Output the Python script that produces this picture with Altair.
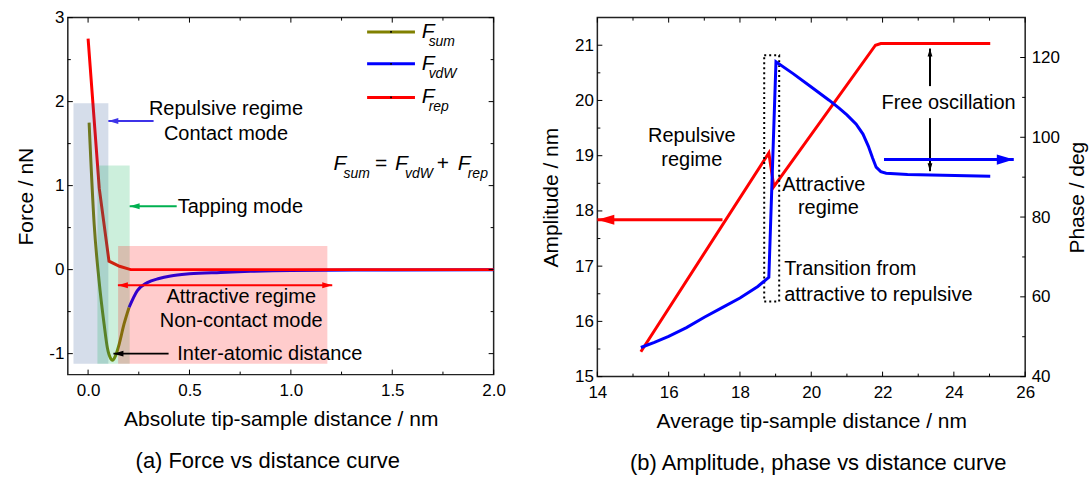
import altair as alt
import pandas as pd

FONT = "Liberation Sans"

# ---------------- panel (a): force vs distance ----------------
rep_x = [0.0, 0.055, 0.103, 0.155, 0.21, 0.3, 0.5, 1.0, 1.5, 2.0]
rep_y = [2.75, 0.97, 0.10, 0.04, 0.0, 0.0, 0.0, 0.0, 0.0, 0.0]
sum_x = [0.005, 0.03, 0.054, 0.079, 0.095, 0.112, 0.12, 0.136, 0.153, 0.177, 0.202]
sum_y = [1.75, 0.54, -0.13, -0.65, -0.93, -1.06, -1.08, -1.02, -0.89, -0.65, -0.45]
vdw_x = [0.202, 0.243, 0.292, 0.35, 0.407, 0.5, 0.653, 0.8, 1.0, 1.5, 2.0]
vdw_y = [-0.45, -0.25, -0.155, -0.105, -0.075, -0.05, -0.033, -0.02, -0.01, -0.004, -0.002]

reg_x1 = [-0.072, 0.046, 0.148]
reg_x2 = [0.100, 0.205, 1.18]
reg_y1 = [-1.12, -1.12, -1.12]
reg_y2 = [1.98, 1.24, 0.28]
reg_col = ["#2f5597", "#00b050", "#ff0000"]

leg_sub = ["sum", "vdW", "rep"]
leg_y = [2.83, 2.45, 2.05]
leg_col = ["#808000", "#0000ff", "#ff0000"]
leg_x1, leg_x2, leg_tx = 1.376, 1.612, 1.645

form_F_x = [1.21, 1.514, 1.823]
form_op_txt = ["=", "+"]
form_op_x = [1.415, 1.72]
form_sub = ["sum", "vdW", "rep"]
form_y = 1.255

a_ctr_txt = ["Repulsive regime", "Contact mode", "Attractive regime", "Non-contact mode"]
a_ctr_x = [0.68, 0.68, 0.755, 0.755]
a_ctr_y = [1.91, 1.61, -0.33, -0.61]
a_left_txt = ["Tapping mode", "Inter-atomic distance"]
a_left_x = [0.442, 0.44]
a_left_y = [0.75, -1.0]

# arrows: tail x, tip x, y, colour (heads point left)
a_arr_tail = [0.323, 0.437, 0.397, 1.204]
a_arr_tip = [0.100, 0.205, 0.125, 0.147]
a_arr_y = [1.77, 0.754, -1.0, -0.185]
a_arr_col = ["#3d33e8", "#00b050", "#000000", "#ff0000"]

a_xmaj = [0.0, 0.5, 1.0, 1.5, 2.0]
a_xmin = [0.25, 0.75, 1.25, 1.75]
a_ymaj = [-1, 0, 1, 2, 3]
a_ymin = [-0.5, 0.5, 1.5, 2.5]

# ---------------- panel (b): amplitude / phase ----------------
amp_x = [15.22, 18.81, 18.95, 21.80, 21.95, 25.02]
amp_y = [15.45, 19.05, 18.44, 21.0, 21.03, 21.03]
ph_x = [15.22, 15.6, 16.0, 16.5, 17.0, 17.5, 18.0, 18.5, 18.81, 19.01,
        19.5, 20.0, 20.5, 20.78, 21.0, 21.26, 21.45, 21.6, 21.72, 21.82, 21.95, 22.1, 22.7, 25.02]
ph_y = [47.3, 48.6, 50.1, 52.3, 54.9, 57.3, 59.7, 62.6, 64.9, 118.9,
        115.9, 112.6, 109.3, 107.3, 105.6, 103.3, 100.8, 97.8, 94.8, 92.5, 91.4, 91.0, 90.65, 90.25]

b_ctr_txt = ["Repulsive", "regime", "Attractive", "regime", "Free oscillation"]
b_ctr_x = [16.65, 16.65, 20.35, 20.48, 23.85]
b_ctr_y = [19.36, 18.93, 18.47, 18.06, 19.95]
b_left_txt = ["Transition from", "attractive to repulsive"]
b_left_x = [19.24, 19.24]
b_left_y = [16.94, 16.47]

box_x = [18.68, 19.10]
box_y = [16.36, 20.82]

red_arr = dict(tail=17.51, tip=14.0, y=17.84)
blue_arr = dict(tail=22.04, tip=25.68, y=94.4)
blk_x = 23.33
blk_up = [20.26, 20.94]    # tail, tip
blk_dn = [19.68, 18.72]    # tail, tip

b_xmaj = [14, 16, 18, 20, 22, 24, 26]
b_xmin = [15, 17, 19, 21, 23, 25]
b_ymaj = [15, 16, 17, 18, 19, 20, 21]
b_ymin = [15.5, 16.5, 17.5, 18.5, 19.5, 20.5]
b_pmaj = [40, 60, 80, 100, 120]
b_pmin = [50, 70, 90, 110]

W1, H1 = 427, 358
W2, H2 = 429, 360
MAJ, MIN = 5, 3
TXT = 20

HEAD_L = "M0,0L2,-0.6L2,0.6Z"
HEAD_R = "M0,0L-2,-0.6L-2,0.6Z"
HEAD_U = "M0,0L-0.6,2L0.6,2Z"
HEAD_D = "M0,0L-0.6,-2L0.6,-2Z"

# ---------------- scales / axes ----------------
xa = alt.Scale(domain=[-0.1, 2.0], nice=False, zero=False)
ya = alt.Scale(domain=[-1.25, 3.0], nice=False, zero=False)
ax_xa = alt.Axis(values=a_xmaj, format=".1f", title="Absolute tip-sample distance / nm",
                 labelPadding=8, titlePadding=10)
ax_ya = alt.Axis(values=a_ymaj, title="Force / nN", labelPadding=4, titlePadding=12,
                 labelExpr="datum.value < 0 ? '-' + abs(datum.value) : '' + datum.value")

xb = alt.Scale(domain=[14, 26], nice=False, zero=False)
yb = alt.Scale(domain=[15, 21.5], nice=False, zero=False)
pb = alt.Scale(domain=[40, 130], nice=False, zero=False)
ax_xb = alt.Axis(values=b_xmaj, format="d", title="Average tip-sample distance / nm",
                 labelPadding=8, titlePadding=10)
ax_yb = alt.Axis(values=b_ymaj, format="d", title="Amplitude / nm", labelPadding=4, titlePadding=13)
ax_pb = alt.Axis(values=b_pmaj, format="d", title="Phase / deg", orient="right", labelPadding=6,
                 titlePadding=7, titleAngle=270, titleBaseline="top")


def XA(f):
    return alt.X(f, scale=xa, axis=ax_xa)


def YA(f):
    return alt.Y(f, scale=ya, axis=ax_ya)


def XB(f):
    return alt.X(f, scale=xb, axis=ax_xb)


def YB(f):
    return alt.Y(f, scale=yb, axis=ax_yb)


def PB(f):
    return alt.Y(f, scale=pb, axis=ax_pb)


def xticks(vals, X, H, length):
    df = pd.DataFrame({"v": vals})
    base = alt.Chart(df).mark_rule(color="black", strokeWidth=1)
    bot = base.encode(x=X("v:Q"), y=alt.value(H), y2=alt.value(H - length))
    top = base.encode(x=X("v:Q"), y=alt.value(0), y2=alt.value(length))
    return [bot, top]


def yticks(vals, Y, W, length, sides=("l", "r")):
    df = pd.DataFrame({"v": vals})
    base = alt.Chart(df).mark_rule(color="black", strokeWidth=1)
    out = []
    if "l" in sides:
        out.append(base.encode(y=Y("v:Q"), x=alt.value(0), x2=alt.value(length)))
    if "r" in sides:
        out.append(base.encode(y=Y("v:Q"), x=alt.value(W), x2=alt.value(W - length)))
    return out


# ================= panel (a) =================
df_rep = pd.DataFrame({"x": rep_x, "y": rep_y})
df_sum = pd.DataFrame({"x": sum_x, "y": sum_y})
df_vdw = pd.DataFrame({"x": vdw_x, "y": vdw_y})

l_sum = alt.Chart(df_sum).mark_line(color="#808000", strokeWidth=3, interpolate="monotone").encode(
    x=XA("x:Q"), y=YA("y:Q"))
l_vdw = alt.Chart(df_vdw).mark_line(color="#0000ff", strokeWidth=3, interpolate="monotone").encode(
    x=XA("x:Q"), y=YA("y:Q"))
l_rep = alt.Chart(df_rep).mark_line(color="#ff0000", strokeWidth=3).encode(
    x=XA("x:Q"), y=YA("y:Q"))

df_reg = pd.DataFrame({"x1": reg_x1, "x2": reg_x2, "y1": reg_y1, "y2": reg_y2, "c": reg_col})
regions = alt.Chart(df_reg).mark_rect(opacity=0.2).encode(
    x=XA("x1:Q"), x2="x2:Q", y=YA("y1:Q"), y2="y2:Q", color=alt.Color("c:N", scale=None))

df_arr = pd.DataFrame({"tail": a_arr_tail, "tip": a_arr_tip, "y": a_arr_y, "c": a_arr_col})
arr_lines = alt.Chart(df_arr).mark_rule(strokeWidth=2).encode(
    x=XA("tail:Q"), x2="tip:Q", y=YA("y:Q"), color=alt.Color("c:N", scale=None))
arr_heads = alt.Chart(df_arr).mark_point(shape=HEAD_L, filled=True, size=100, opacity=1, strokeWidth=0).encode(
    x=XA("tip:Q"), y=YA("y:Q"), color=alt.Color("c:N", scale=None))
df_arr2 = df_arr.iloc[[3]]
arr_heads2 = alt.Chart(df_arr2).mark_point(shape=HEAD_R, filled=True, size=100, opacity=1, strokeWidth=0).encode(
    x=XA("tail:Q"), y=YA("y:Q"), color=alt.Color("c:N", scale=None))

df_actr = pd.DataFrame({"t": a_ctr_txt, "x": a_ctr_x, "y": a_ctr_y})
t_actr = alt.Chart(df_actr).mark_text(font=FONT, fontSize=TXT, align="center", baseline="middle", color="black").encode(
    x=XA("x:Q"), y=YA("y:Q"), text="t:N")
df_aleft = pd.DataFrame({"t": a_left_txt, "x": a_left_x, "y": a_left_y})
t_aleft = alt.Chart(df_aleft).mark_text(font=FONT, fontSize=TXT, align="left", baseline="middle", color="black").encode(
    x=XA("x:Q"), y=YA("y:Q"), text="t:N")

# legend
df_leg = pd.DataFrame({"x1": [leg_x1] * 3, "x2": [leg_x2] * 3, "xm": [(leg_x1 + leg_x2) / 2] * 3,
                       "xt": [leg_tx] * 3, "y": leg_y, "c": leg_col, "s": leg_sub, "F": ["F"] * 3})
leg_lines = alt.Chart(df_leg).mark_rule(strokeWidth=3).encode(
    x=XA("x1:Q"), x2="x2:Q", y=YA("y:Q"), color=alt.Color("c:N", scale=None))
leg_dots = alt.Chart(df_leg).mark_point(shape="square", filled=True, size=3, color="black", opacity=1).encode(
    x=XA("xm:Q"), y=YA("y:Q"))
leg_F = alt.Chart(df_leg).mark_text(font=FONT, fontSize=21, fontStyle="italic", align="left",
                                    baseline="middle", color="black").encode(
    x=XA("xt:Q"), y=YA("y:Q"), text="F:N")
leg_S = alt.Chart(df_leg).mark_text(font=FONT, fontSize=14, fontStyle="italic", align="left",
                                    baseline="middle", color="black", dx=7, dy=10).encode(
    x=XA("xt:Q"), y=YA("y:Q"), text="s:N")

# formula
df_fF = pd.DataFrame({"t": ["F"] * 3, "x": form_F_x, "s": form_sub, "y": [form_y] * 3})
f_F = alt.Chart(df_fF).mark_text(font=FONT, fontSize=21, fontStyle="italic", align="left",
                                 baseline="middle", color="black").encode(
    x=XA("x:Q"), y=YA("y:Q"), text="t:N")
f_sub = alt.Chart(df_fF).mark_text(font=FONT, fontSize=14, fontStyle="italic", align="left",
                                   baseline="middle", color="black", dx=10, dy=10).encode(
    x=XA("x:Q"), y=YA("y:Q"), text="s:N")
df_fop = pd.DataFrame({"t": form_op_txt, "x": form_op_x, "y": [form_y] * 2})
f_op = alt.Chart(df_fop).mark_text(font=FONT, fontSize=21, align="left", baseline="middle", color="black").encode(
    x=XA("x:Q"), y=YA("y:Q"), text="t:N")

ticks_a = (xticks(a_xmaj, XA, H1, MAJ) + xticks(a_xmin, XA, H1, MIN)
           + yticks(a_ymaj, YA, W1, MAJ) + yticks(a_ymin, YA, W1, MIN))

panel_a = alt.layer(
    l_sum, l_vdw, l_rep, regions, arr_lines, arr_heads, arr_heads2, t_actr, t_aleft,
    leg_lines, leg_dots, leg_F, leg_S, f_F, f_sub, f_op, *ticks_a
).properties(
    width=W1, height=H1,
    title=alt.TitleParams("(a) Force vs distance curve", orient="bottom", frame="group",
                          offset=22, dx=-13)
)

# ================= panel (b) =================
df_amp = pd.DataFrame({"x": amp_x, "y": amp_y})
df_ph = pd.DataFrame({"x": ph_x, "y": ph_y})

l_amp = alt.Chart(df_amp).mark_line(color="#ff0000", strokeWidth=3).encode(x=XB("x:Q"), y=YB("y:Q"))

df_box = pd.DataFrame({"x1": [box_x[0]], "x2": [box_x[1]], "y1": [box_y[0]], "y2": [box_y[1]]})
box = alt.Chart(df_box).mark_rect(fill="transparent", stroke="black", strokeWidth=2, strokeDash=[2, 3]).encode(
    x=XB("x1:Q"), x2="x2:Q", y=YB("y1:Q"), y2="y2:Q")

df_ra = pd.DataFrame({"tail": [red_arr["tail"]], "tip": [red_arr["tip"]], "y": [red_arr["y"]]})
ra_line = alt.Chart(df_ra).mark_rule(color="#ff0000", strokeWidth=3).encode(
    x=XB("tail:Q"), x2="tip:Q", y=YB("y:Q"))
ra_head = alt.Chart(df_ra).mark_point(shape=HEAD_L, filled=True, size=289, color="#ff0000", opacity=1,
                                      strokeWidth=0).encode(x=XB("tip:Q"), y=YB("y:Q"))

df_bk = pd.DataFrame({"x": [blk_x, blk_x], "tail": [blk_up[0], blk_dn[0]], "tip": [blk_up[1], blk_dn[1]],
                      "sh": [HEAD_U, HEAD_D]})
bk_line = alt.Chart(df_bk).mark_rule(color="black", strokeWidth=2).encode(
    x=XB("x:Q"), y=YB("tail:Q"), y2="tip:Q")
bk_head = alt.Chart(df_bk).mark_point(filled=True, size=64, color="black", opacity=1, strokeWidth=0).encode(
    x=XB("x:Q"), y=YB("tip:Q"), shape=alt.Shape("sh:N", scale=None))

df_bctr = pd.DataFrame({"t": b_ctr_txt, "x": b_ctr_x, "y": b_ctr_y})
t_bctr = alt.Chart(df_bctr).mark_text(font=FONT, fontSize=TXT, align="center", baseline="middle", color="black").encode(
    x=XB("x:Q"), y=YB("y:Q"), text="t:N")
df_bleft = pd.DataFrame({"t": b_left_txt, "x": b_left_x, "y": b_left_y})
t_bleft = alt.Chart(df_bleft).mark_text(font=FONT, fontSize=TXT, align="left", baseline="middle", color="black").encode(
    x=XB("x:Q"), y=YB("y:Q"), text="t:N")

ticks_b = (xticks(b_xmaj, XB, H2, MAJ) + xticks(b_xmin, XB, H2, MIN)
           + yticks(b_ymaj, YB, W2, MAJ, ("l",)) + yticks(b_ymin, YB, W2, MIN, ("l",)))

amp_group = alt.layer(l_amp, box, ra_line, ra_head, bk_line, bk_head, t_bctr, t_bleft, *ticks_b)

l_ph = alt.Chart(df_ph).mark_line(color="#0000ff", strokeWidth=3).encode(x=XB("x:Q"), y=PB("y:Q"))
df_ba = pd.DataFrame({"tail": [blue_arr["tail"]], "tip": [blue_arr["tip"]], "y": [blue_arr["y"]]})
ba_line = alt.Chart(df_ba).mark_rule(color="#0000ff", strokeWidth=3).encode(
    x=XB("tail:Q"), x2="tip:Q", y=PB("y:Q"))
ba_head = alt.Chart(df_ba).mark_point(shape=HEAD_R, filled=True, size=289, color="#0000ff", opacity=1,
                                      strokeWidth=0).encode(x=XB("tip:Q"), y=PB("y:Q"))
ph_ticks = yticks(b_pmaj, PB, W2, MAJ, ("r",)) + yticks(b_pmin, PB, W2, MIN, ("r",))

ph_group = alt.layer(l_ph, ba_line, ba_head, *ph_ticks)

panel_b = alt.layer(amp_group, ph_group).resolve_scale(y="independent").properties(
    width=W2, height=H2,
    title=alt.TitleParams("(b) Amplitude, phase vs distance curve", orient="bottom", frame="group",
                          offset=22, dx=7)
)

chart = alt.hconcat(panel_a, panel_b, spacing=33).properties(
    padding={"left": 15, "top": 7, "right": 0, "bottom": 2}
).configure_view(
    stroke="#222222", strokeWidth=1.5
).configure_axis(
    grid=False, ticks=False, domain=False, tickSize=0, labelFlush=False, labelOverlap=False,
    labelFont=FONT, titleFont=FONT, labelFontSize=17, titleFontSize=21,
    labelColor="black", titleColor="black", titleFontWeight="normal"
).configure_title(
    font=FONT, fontSize=22, fontWeight="normal", color="black"
)

chart.save("out.html", embed_options={"renderer": "svg", "actions": False})
